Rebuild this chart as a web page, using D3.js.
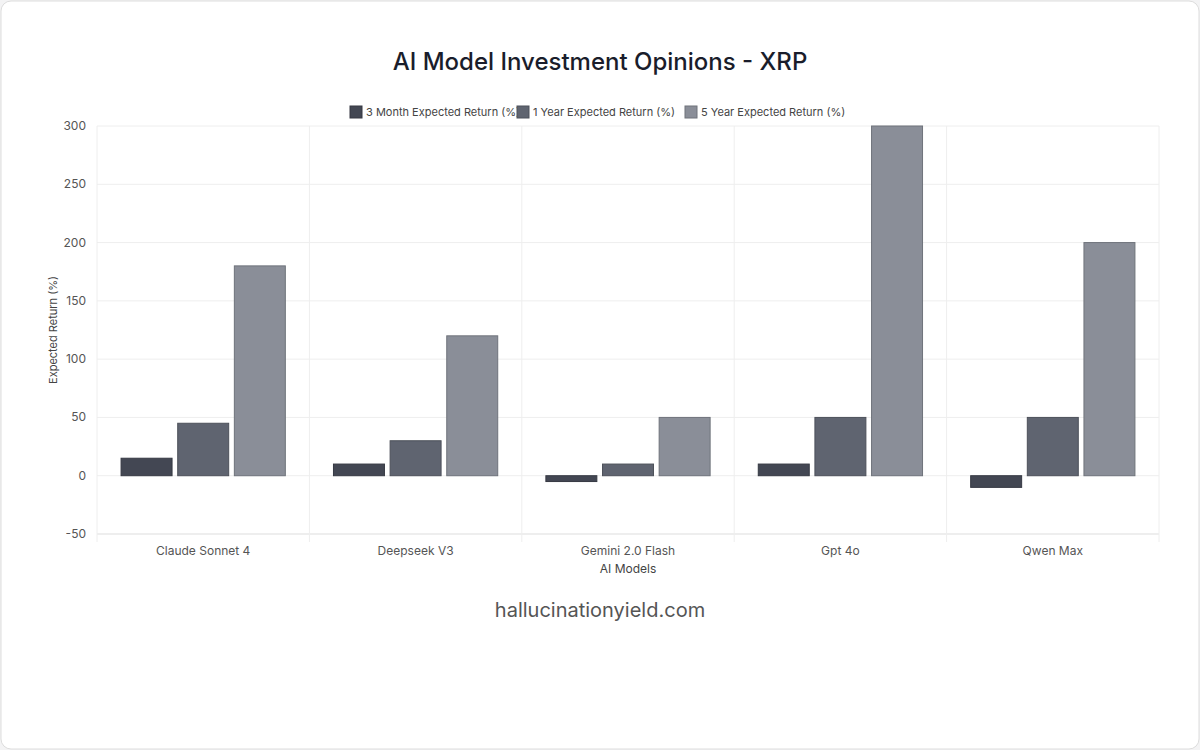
<!DOCTYPE html>
<html><head><meta charset="utf-8">
<script src="https://cdn.jsdelivr.net/npm/d3@7/dist/d3.min.js"></script>
<style>
body{margin:0;background:#f3f3f4;font-family:"Helvetica Neue",Inter,"Liberation Sans",Arial,sans-serif;}
</style></head><body>
<svg id="c" width="1200" height="750"></svg>
<script>
const categories = ["Claude Sonnet 4","Deepseek V3","Gemini 2.0 Flash","Gpt 4o","Qwen Max"];
const seriesNames = ["3 Month Expected Return (%)","1 Year Expected Return (%)","5 Year Expected Return (%)"];
const threeMonth = [15,10,-5,10,-10];
const oneYear = [45,30,10,50,50];
const fiveYear = [180,120,50,300,200];
const yTicks = [-50,0,50,100,150,200,250,300];
const colors = ["#434753","#5f6470","#8a8e98"];
const series = [threeMonth, oneYear, fiveYear];

const svg = d3.select("#c");
svg.append("rect").attr("x",1).attr("y",1).attr("width",1198).attr("height",748).attr("rx",10)
  .attr("fill","#fff").attr("stroke","#ddd");

const L=97,R=1159,T=126,B=534;
const x = d3.scaleBand().domain(categories).range([L,R]);
const y = d3.scaleLinear().domain([-50,300]).range([B,T]);
const inner = d3.scaleBand().domain(d3.range(3)).range([0,x.bandwidth()*0.8]).paddingInner(0.1).paddingOuter(0.05);

// grid
svg.append("g").selectAll("line").data(yTicks).join("line")
  .attr("x1",L).attr("x2",R).attr("y1",d=>y(d)).attr("y2",d=>y(d))
  .attr("stroke",d=>d===-50?"#ddd":"#eee");
svg.append("g").selectAll("line").data(d3.range(categories.length+1)).join("line")
  .attr("x1",i=>L+i*x.step()).attr("x2",i=>L+i*x.step()).attr("y1",T).attr("y2",B+8)
  .attr("stroke","#eee");

// y axis labels
svg.append("g").selectAll("text").data(yTicks).join("text")
  .attr("x",L-11).attr("y",d=>y(d)+4).attr("text-anchor","end")
  .attr("font-size",12).attr("fill","#555").text(d=>d);

// bars
series.forEach((vals,si)=>{
  svg.append("g").selectAll("rect").data(vals).join("rect")
    .attr("x",(d,i)=>x(categories[i])+x.bandwidth()*0.1+inner(si))
    .attr("width",inner.bandwidth())
    .attr("y",d=>y(Math.max(0,d)))
    .attr("height",d=>Math.abs(y(d)-y(0)))
    .attr("fill",colors[si]).attr("stroke",d3.color(colors[si]).darker(0.6)).attr("stroke-width",1);
});

// x labels
svg.append("g").selectAll("text").data(categories).join("text")
  .attr("x",d=>x(d)+x.bandwidth()/2).attr("y",555).attr("text-anchor","middle")
  .attr("font-size",12).attr("fill","#555").text(d=>d);
svg.append("text").attr("x",(L+R)/2).attr("y",573).attr("text-anchor","middle")
  .attr("font-size",12).attr("fill","#444").text("AI Models");
svg.append("text").attr("transform",`translate(57,${(T+B)/2}) rotate(-90)`).attr("text-anchor","middle")
  .attr("font-size",11).attr("fill","#444").text("Expected Return (%)");

// title
svg.append("text").attr("x",600).attr("y",70).attr("text-anchor","middle")
  .attr("font-size",24).attr("fill","#1a1d2b").attr("font-weight",500).text("AI Model Investment Opinions - XRP");

// legend
const lx=[350,517,685];
seriesNames.forEach((n,i)=>{
  svg.append("rect").attr("x",lx[i]).attr("y",106).attr("width",12).attr("height",12).attr("fill",colors[i]).attr("stroke",d3.color(colors[i]).darker(0.6));
  svg.append("text").attr("x",lx[i]+16).attr("y",116).attr("font-size",11).attr("fill","#444").text(n);
});

svg.append("text").attr("x",600).attr("y",617).attr("text-anchor","middle")
  .attr("font-size",20).attr("fill","#555").text("hallucinationyield.com");
</script></body></html>
